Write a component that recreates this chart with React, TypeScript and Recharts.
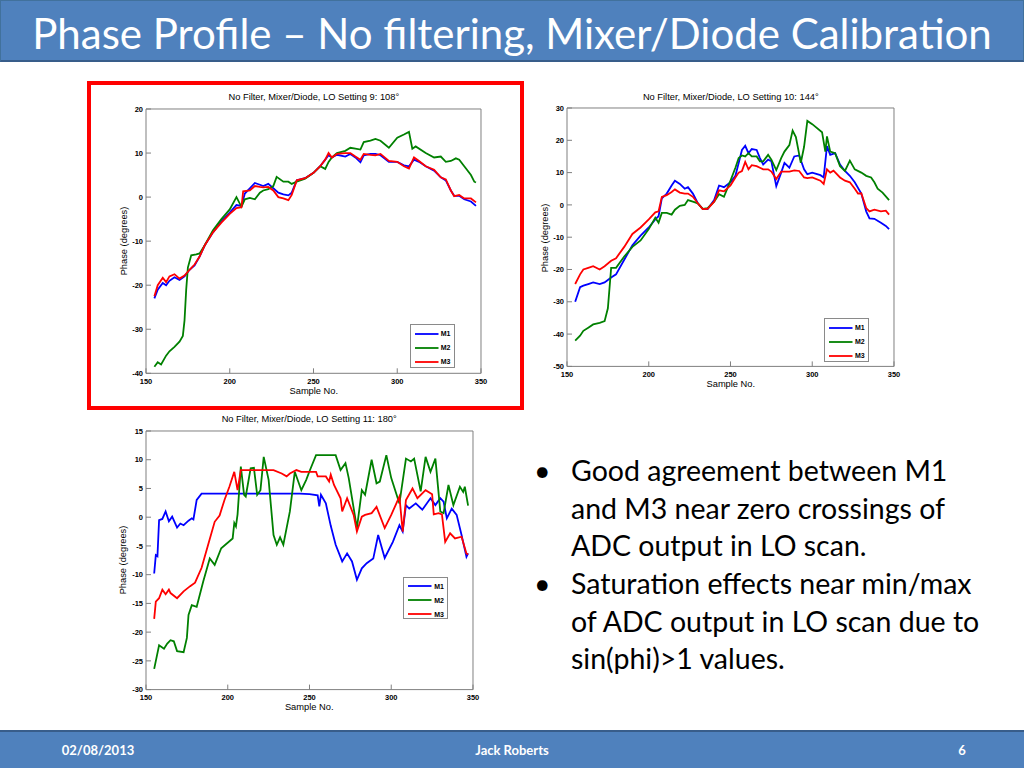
import React from 'react';
import { LineChart, Line, XAxis, YAxis, Legend } from 'recharts';

type Pt = [number, number];

const X_TICKS = [150, 200, 250, 300, 350];
const SERIES_NAMES = ['M1', 'M2', 'M3'];
const SERIES_COLORS = ['#0000ff', '#008000', '#ff0000'];

// LO setting 9 (108 deg)
const S9_Y_TICKS = [-40, -30, -20, -10, 0, 10, 20];
const S9_M1: Pt[] = [[155,-23],[157,-21],[160,-19.5],[162,-20],[164,-19],[167,-18.2],[170,-18.8],[173,-18],[176,-16.5],[179,-15.5],[182,-13.5],[185,-11],[190,-8],[195,-5.5],[200,-3.5],[204,-1.8],[207,-2],[209,0.8],[212,2],[215,3.2],[218,2.8],[220,2.5],[223,3],[226,2],[229,1],[232,0.6],[235,0.4],[237,1],[240,3.8],[245,4.3],[250,5.5],[254,7],[257,8.5],[259,9.5],[261,9],[264,9.6],[269,9.2],[272,9.8],[275,9],[278,7.9],[280,9.5],[284,9.8],[287,9.8],[290,9.5],[295,8],[300,8],[304,7.2],[307,7],[310,8.5],[313,8],[317,7],[322,6],[326,4.5],[329,3.8],[332,1.5],[334,0.3],[337,0.3],[340,-0.5],[344,-1],[347,-2]];
const S9_M2: Pt[] = [[155,-38.5],[157,-37.5],[159,-38],[162,-36],[164,-35],[167,-34],[170,-32.8],[172,-31.5],[173,-28],[174,-21],[175,-16],[177,-13.2],[180,-13],[182,-12.8],[185,-11],[190,-7.5],[195,-5],[200,-2.8],[204,0],[207,-2.2],[209,-0.5],[212,-0.2],[215,-0.5],[218,1],[220,1.5],[223,1.8],[226,2.5],[228,4.6],[232,3.5],[235,3.5],[237,3],[240,3.5],[245,4.2],[250,5.5],[254,7],[257,6.4],[259,8],[261,9],[264,10],[269,10.5],[272,11.2],[275,11],[278,10.8],[280,12.5],[284,12.8],[287,13.2],[290,12.8],[295,11.2],[300,13.5],[304,14.2],[307,14.8],[309,11],[311,11.5],[317,10],[322,9],[326,9.2],[329,8],[332,8.2],[335,8.8],[337,8.5],[340,7],[344,5],[346,3.5],[347,3.3]];
const S9_M3: Pt[] = [[155,-22.5],[157,-20],[160,-18.3],[162,-19.3],[164,-18],[167,-17.5],[170,-18.5],[173,-17.8],[176,-16.5],[179,-15.3],[182,-13.5],[185,-11],[190,-8],[195,-5.8],[200,-3.8],[204,-2.5],[207,-2.3],[208,1.3],[212,1.5],[215,2.5],[218,2.3],[220,2.2],[223,2.3],[226,1.5],[229,0],[232,-0.3],[235,-0.7],[237,0.5],[240,3.8],[245,4.3],[250,5.5],[254,7],[257,8.5],[259,10],[261,9],[264,9.8],[269,10],[272,10],[275,9.2],[278,8.5],[280,9.8],[284,9.6],[287,9.5],[290,9.8],[295,8.2],[300,8],[304,7],[307,6.5],[310,9],[313,8.2],[317,7],[322,6.2],[326,4.5],[329,4],[332,1.5],[334,0.2],[337,0.5],[340,-0.3],[344,-0.3],[347,-1.2]];

// LO setting 10 (144 deg)
const S10_Y_TICKS = [-50, -40, -30, -20, -10, 0, 10, 20, 30];
const S10_M1: Pt[] = [[155,-30],[158,-25.5],[160,-25],[163,-24.5],[166,-24],[170,-24.5],[173,-24],[177,-22.5],[180,-21.5],[185,-17],[190,-12.5],[195,-9.5],[200,-7],[204,-4.5],[206,-3.5],[208,2],[211,3.5],[214,6],[216,7.5],[219,6.5],[222,5],[224,5.5],[227,3.5],[230,0.5],[233,-1.2],[236,-1.3],[240,1.5],[243,6],[246,5.5],[250,7],[253,9],[255,13],[257,17],[259,18.3],[261,16],[263,17.3],[266,17],[268,14.5],[270,12.5],[273,14],[275,13.5],[278,5.8],[281,10],[283,13],[286,11.5],[289,15],[292,15.3],[295,11],[297,9.5],[300,10],[305,9.2],[307,8.5],[309,18.2],[311,15.5],[314,16],[317,12.5],[320,10.5],[323,9],[326,7],[330,3.5],[333,-2],[335,-4.2],[338,-4.3],[342,-5.5],[345,-6.5],[347,-7.5]];
const S10_M2: Pt[] = [[155,-42],[158,-40.5],[160,-39],[163,-38],[166,-37],[170,-36.5],[173,-36],[175,-32],[177,-19.5],[180,-19.5],[185,-16],[190,-13],[195,-11],[200,-7.5],[204,-4],[206,-5.5],[208,-2.5],[211,-2.5],[214,-3],[216,-1.5],[219,-0.3],[222,0],[224,1.5],[227,1],[230,0.5],[233,-1.2],[236,-1],[240,1],[243,3.3],[246,2.5],[250,7.5],[253,11.5],[255,14.5],[257,15.3],[259,15],[261,16],[263,15],[266,15],[268,13.5],[270,13.5],[273,15.5],[275,14],[278,10.8],[281,14.5],[283,16.5],[286,18.5],[288,23],[290,21],[293,13],[295,18],[297,26],[300,25],[306,22.5],[308,16.5],[309,21.2],[311,16.5],[314,16],[317,12],[320,10.5],[323,13.7],[326,11],[330,10],[333,9],[336,8.5],[338,7],[340,5],[343,3.8],[347,1.5]];
const S10_M3: Pt[] = [[155,-24.5],[158,-21.5],[160,-20],[163,-19.5],[166,-19],[170,-20],[173,-19],[177,-17.3],[180,-16.5],[185,-13],[190,-9],[195,-7],[200,-4.5],[204,-2.3],[206,-2],[208,2.5],[211,3],[214,4],[216,4.8],[219,3.8],[222,3.5],[224,3.5],[227,2.5],[230,0.5],[233,-1.3],[236,-1.2],[240,1],[243,4.5],[246,4.2],[250,6],[253,8.5],[255,10],[257,10.5],[259,13.3],[261,11],[263,12.3],[266,12],[268,11.5],[270,11],[273,11],[275,10.3],[278,8],[281,10.3],[283,10.3],[286,10.3],[289,10.7],[292,10.5],[295,8.5],[297,8.3],[300,8.5],[305,7.5],[307,6.5],[309,11],[311,10],[313,10.6],[317,8.5],[320,7.5],[323,7],[326,5],[328,3.5],[330,3.6],[333,-1],[335,-2],[338,-1.5],[342,-2],[345,-1.8],[347,-3]];

// LO setting 11 (180 deg)
const S11_Y_TICKS = [-30, -25, -20, -15, -10, -5, 0, 5, 10, 15];
const S11_M1: Pt[] = [[155,-9.8],[156,-6.6],[157,-6.8],[158,-0.5],[160,-0.3],[162,1],[164,-0.7],[166,0.1],[169,-1.8],[171,-1.1],[173,-1.4],[176,-0.6],[178,-0.2],[179,-0.4],[181,3],[184,4.1],[244,4.1],[250,4],[255,3.8],[256,1.9],[257,3.9],[260,2.4],[263,-1.5],[266,-4.8],[270,-7.7],[273,-6.3],[276,-7.7],[279,-10.9],[282,-8.9],[285,-8],[289,-7.2],[292,-3.1],[296,-7.1],[301,-4.3],[305,-1.4],[307,-2.5],[309,2.1],[311,1.5],[315,2.4],[319,1.3],[324,3.3],[327,2.1],[330,3.3],[332,2.7],[334,-0.2],[337,1.5],[340,0.4],[343,-3.1],[346,-6.9],[347,-6.3]];
const S11_M2: Pt[] = [[155,-26.4],[158,-22.3],[161,-22.9],[163,-22],[165,-21.4],[167,-21.6],[169,-23.3],[173,-23.5],[175,-21],[176,-17],[178,-15.3],[181,-15.6],[185,-11.2],[189,-7.2],[192,-8.3],[196,-5.4],[203,-3.7],[204,-1],[205,-1.6],[206,0.5],[208,8.8],[210,3.9],[211,3.6],[214,8.5],[216,8.6],[218,3.9],[220,4.7],[222,10.5],[225,6.5],[228,-3.1],[230,-4.8],[232,-3.5],[234,-4.8],[238,1],[241,7.9],[245,4.7],[248,6.5],[250,8],[254,10.8],[266,10.8],[269,8.2],[272,9.4],[274,6.8],[279,-1.9],[282,4.7],[284,3.9],[288,10],[291,5.9],[293,6.2],[297,10.8],[300,6.8],[305,2.4],[309,10.2],[312,9.7],[314,10.2],[318,4.5],[321,10.5],[324,7.9],[327,10.2],[330,1],[332,0.7],[335,5.6],[338,2.1],[342,5.3],[344,4.4],[345,5.3],[347,2]];
const S11_M3: Pt[] = [[155,-17.7],[156,-14.7],[158,-14.1],[160,-12.6],[162,-13.4],[164,-12.6],[165,-13.2],[169,-14.1],[173,-12.9],[177,-12],[180,-11.4],[184,-8.8],[188,-4.8],[192,-0.8],[195,0.3],[198,3],[201,5.3],[204,7.9],[206,4.7],[208,8.2],[228,8.2],[233,7.6],[236,7.1],[238,7.6],[242,8.2],[245,7.9],[254,7.9],[255,7.1],[260,7.1],[262,6.2],[263,7.4],[265,5.6],[269,3.3],[270,1],[273,3.3],[277,0.4],[279,-2.5],[282,0.1],[284,0.4],[288,0.7],[291,1.8],[296,-1.9],[300,0.4],[305,3.6],[307,-2.5],[309,3],[313,5],[316,3.3],[321,4.7],[325,4],[326,0.5],[329,0.7],[331,0.5],[333,-4.3],[336,-2.8],[339,-3.7],[343,-3.4],[346,-6.3],[347,-6.5]];

const FONT = '"Liberation Sans", Arial, sans-serif';
const SLIDE_FONT = 'Lato, "Open Sans", sans-serif';
const FRAME = '#808080';
const TICK = { fill: '#000', fontSize: 7.5, fontWeight: 700, fontFamily: FONT };

// padding around the plot area inside each LineChart
const PAD_L = 40, PAD_T = 30, PAD_R = 20, PAD_B = 30;

interface Box { left: number; top: number; width: number; height: number }

interface PhaseChartProps {
  plot: Box;
  yDomain: [number, number];
  yTicks: number[];
  title: string;
  series: Pt[][];
  legend: Box;
  titleY: number;
  xLabelY: number;
  yLabelX: number;
}

const LegendBox = ({ payload }: any) => (
  <div style={{ width: '100%', height: '100%', boxSizing: 'border-box', border: '1px solid #8a8a8a', background: '#fff', paddingTop: 1.5 }}>
    {(payload || []).map((e: any) => (
      <div key={e.value} style={{ display: 'flex', alignItems: 'center', height: 14 }}>
        <svg width={28} height={6} style={{ display: 'block' }}>
          <line x1={4} y1={3} x2={27.5} y2={3} stroke={e.color} strokeWidth={1.8} />
        </svg>
        <span style={{ fontFamily: FONT, fontSize: 7, fontWeight: 700, marginLeft: 2, color: '#000', lineHeight: 1 }}>{e.value}</span>
      </div>
    ))}
  </div>
);

const label = (x: number, y: number, text: string, rotate = false) => (
  <div
    style={{
      position: 'absolute', left: x, top: y, whiteSpace: 'nowrap', fontFamily: FONT, fontSize: 9.3,
      lineHeight: 1, color: '#000', transform: `translate(-50%, -50%)${rotate ? ' rotate(-90deg)' : ''}`,
    }}
  >
    {text}
  </div>
);

const PhaseChart = ({ plot, yDomain, yTicks, title, series, legend, titleY, xLabelY, yLabelX }: PhaseChartProps) => {
  const W = plot.width + PAD_L + PAD_R;
  const H = plot.height + PAD_T + PAD_B;
  const left = plot.left - PAD_L;
  const top = plot.top - PAD_T;
  const cx = plot.left + plot.width / 2;
  const cy = plot.top + plot.height / 2;
  return (
    <>
      <div style={{ position: 'absolute', left, top }}>
        <LineChart width={W} height={H} margin={{ top: 20, right: 10, bottom: 0, left: 0 }}>
          <XAxis xAxisId="b" dataKey="x" type="number" domain={[150, 350]} ticks={X_TICKS} interval={0}
            orientation="bottom" height={PAD_B} tickSize={-5} tickMargin={10} stroke={FRAME} tick={TICK} allowDataOverflow />
          <XAxis xAxisId="t" dataKey="x" type="number" domain={[150, 350]} ticks={X_TICKS} interval={0}
            orientation="top" height={10} tickSize={-5} stroke={FRAME} tick={false} allowDataOverflow />
          <YAxis yAxisId="l" type="number" domain={yDomain} ticks={yTicks} interval={0}
            width={PAD_L} tickSize={-5} tickMargin={8} stroke={FRAME} tick={TICK} allowDataOverflow />
          <YAxis yAxisId="r" type="number" domain={yDomain} ticks={yTicks} interval={0} orientation="right"
            width={10} tickSize={-5} stroke={FRAME} tick={false} allowDataOverflow />
          {series.map((pts, i) => (
            <Line key={SERIES_NAMES[i]} xAxisId="b" yAxisId="l" type="linear"
              data={pts.map(([x, y]) => ({ x, y }))} dataKey="y" name={SERIES_NAMES[i]}
              stroke={SERIES_COLORS[i]} strokeWidth={1.8} dot={false} isAnimationActive={false} />
          ))}
          <Legend layout="vertical" align="center" verticalAlign="middle" content={LegendBox}
            wrapperStyle={{ left: legend.left - left, top: legend.top - top, width: legend.width, height: legend.height }} />
        </LineChart>
      </div>
      {label(cx, titleY, title)}
      {label(cx, xLabelY, 'Sample No.')}
      {label(yLabelX, cy, 'Phase (degrees)', true)}
    </>
  );
};

const BULLETS = [
  ['Good agreement between M1', 'and M3 near zero crossings of', 'ADC output in LO scan.'],
  ['Saturation effects near min/max', 'of ADC output in LO scan due to', 'sin(phi)>1 values.'],
];

export default function App() {
  return (
    <div style={{ position: 'absolute', left: 0, top: 0, width: 1024, height: 768, background: '#fff', overflow: 'hidden', fontFamily: SLIDE_FONT }}>
      <div style={{ position: 'absolute', left: 0, top: 0, width: 1022, height: 59, background: '#4f81bd', border: '1px solid #41719c', borderBottom: '2px solid #385d8a' }} />
      <div style={{ position: 'absolute', left: 512, top: 33, transform: 'translate(-50%, -50%)', whiteSpace: 'nowrap', color: '#fff', fontSize: 42, lineHeight: 1 }}>
        Phase Profile – No filtering, Mixer/Diode Calibration
      </div>

      <div style={{ position: 'absolute', left: 87, top: 81, width: 429, height: 321, border: '4px solid #ff0000' }} />

      <PhaseChart
        plot={{ left: 146.3, top: 108.7, width: 335, height: 264.3 }}
        yDomain={[-40, 20]} yTicks={S9_Y_TICKS}
        title="No Filter, Mixer/Diode, LO Setting 9: 108°"
        series={[S9_M1, S9_M2, S9_M3]}
        legend={{ left: 409.7, top: 324.3, width: 45.6, height: 43.4 }}
        titleY={98} xLabelY={392} yLabelX={125.3}
      />
      <PhaseChart
        plot={{ left: 567.3, top: 108.3, width: 327, height: 258.4 }}
        yDomain={[-50, 30]} yTicks={S10_Y_TICKS}
        title="No Filter, Mixer/Diode, LO Setting 10: 144°"
        series={[S10_M1, S10_M2, S10_M3]}
        legend={{ left: 824, top: 318.3, width: 45, height: 43.4 }}
        titleY={97.7} xLabelY={385} yLabelX={546}
      />
      <PhaseChart
        plot={{ left: 145.7, top: 430.7, width: 327, height: 258.6 }}
        yDomain={[-30, 15]} yTicks={S11_Y_TICKS}
        title="No Filter, Mixer/Diode, LO Setting 11: 180°"
        series={[S11_M1, S11_M2, S11_M3]}
        legend={{ left: 403.3, top: 576.7, width: 44.4, height: 42.6 }}
        titleY={420} xLabelY={708.3} yLabelX={124}
      />

      {BULLETS.map((lines, b) => (
        <div key={b} style={{ position: 'absolute', left: 534, top: 452 + b * 113, color: '#000', fontSize: 28.5, lineHeight: '37.6px', whiteSpace: 'nowrap' }}>
          <span style={{ position: 'absolute', left: 0, top: 0 }}>•</span>
          <div style={{ marginLeft: 37 }}>
            {lines.map((t) => <div key={t}>{t}</div>)}
          </div>
        </div>
      ))}

      <div style={{ position: 'absolute', left: 0, top: 730, width: 1024, height: 38, background: '#4f81bd', borderTop: '2px solid #385d8a' }} />
      {[['02/08/2013', 98], ['Jack Roberts', 512], ['6', 962]].map(([t, x]) => (
        <div key={t as string} style={{ position: 'absolute', left: x as number, top: 750, transform: 'translate(-50%, -50%)', color: '#fff', fontSize: 13, fontWeight: 700, lineHeight: 1, whiteSpace: 'nowrap' }}>
          {t}
        </div>
      ))}
    </div>
  );
}
